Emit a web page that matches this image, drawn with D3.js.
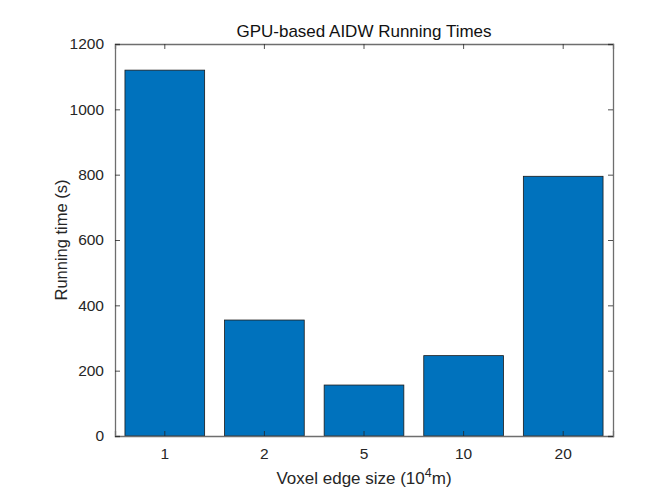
<!DOCTYPE html>
<html>
<head>
<meta charset="utf-8">
<script src="https://cdn.jsdelivr.net/npm/d3@7/dist/d3.min.js"></script>
<style>
  body { margin: 0; background: #fff; }
  text { font-family: "Liberation Sans", Arial, sans-serif; fill: #262626; }
</style>
</head>
<body>
<svg id="chart" width="666" height="491"></svg>
<script>
// data
var categories = ["1", "2", "5", "10", "20"];
var runTimes = [1120, 355, 156, 246, 795];
var yTicks = [0, 200, 400, 600, 800, 1000, 1200];

var margin = { top: 44, right: 53, bottom: 55, left: 115 },
    w = 666 - margin.left - margin.right,
    h = 491 - margin.top - margin.bottom;

var svg = d3.select("#chart");
var g = svg.append("g").attr("transform", `translate(${margin.left}, ${margin.top})`);

var x_scale = d3.scaleBand().domain(categories).range([0, w]).paddingInner(0.2).paddingOuter(0.1);
var y_scale = d3.scaleLinear().domain([0, 1200]).range([h, 0]);

// bars
g.selectAll("rect.bar")
  .data(runTimes)
  .join("rect")
  .attr("class", "bar")
  .attr("x", (d, i) => x_scale(categories[i]))
  .attr("y", d => y_scale(d))
  .attr("width", x_scale.bandwidth())
  .attr("height", d => h - y_scale(d))
  .style("fill", "#0072BD")
  .style("stroke", "#1a1a1a")
  .style("stroke-width", 0.8);

var tickLen = 5;
var axisColor = "#6e6e6e";

// bottom axis, ticks pointing inwards
var xAxis = g.append("g").attr("transform", `translate(0, ${h})`)
  .call(d3.axisBottom(x_scale).tickSize(-tickLen).tickPadding(12));
// top axis, ticks only
var xTop = g.append("g").call(d3.axisTop(x_scale).tickSize(-tickLen).tickFormat(""));
// left axis
var yAxis = g.append("g")
  .call(d3.axisLeft(y_scale).tickValues(yTicks).tickFormat(d3.format("d")).tickSize(-tickLen).tickPadding(11));
// right axis
var yRight = g.append("g").attr("transform", `translate(${w}, 0)`)
  .call(d3.axisRight(y_scale).tickValues(yTicks).tickSize(-tickLen).tickFormat(""));

[xAxis, xTop, yAxis, yRight].forEach(a => {
  a.selectAll(".domain").attr("stroke", axisColor).attr("stroke-width", 1.3);
  a.selectAll(".tick line").attr("stroke", "#262626").attr("stroke-width", 0.8);
  a.selectAll("text").style("font-size", "15.5px").attr("fill", "#262626");
});

// title
svg.append("text")
  .attr("x", margin.left + w / 2)
  .attr("y", 37)
  .attr("text-anchor", "middle")
  .style("font-size", "17px")
  .style("fill", "#111")
  .text("GPU-based AIDW Running Times");

// x label with superscript
var xl = svg.append("text")
  .attr("x", margin.left + w / 2)
  .attr("y", 484)
  .attr("text-anchor", "middle")
  .style("font-size", "17px");
xl.append("tspan").text("Voxel edge size (10");
xl.append("tspan").attr("dy", -7).style("font-size", "12.5px").text("4");
xl.append("tspan").attr("dy", 7).text("m)");

// y label
svg.append("text")
  .attr("transform", `translate(67, ${margin.top + h / 2}) rotate(-90)`)
  .attr("text-anchor", "middle")
  .style("font-size", "16.5px")
  .text("Running time (s)");
</script>
</body>
</html>
